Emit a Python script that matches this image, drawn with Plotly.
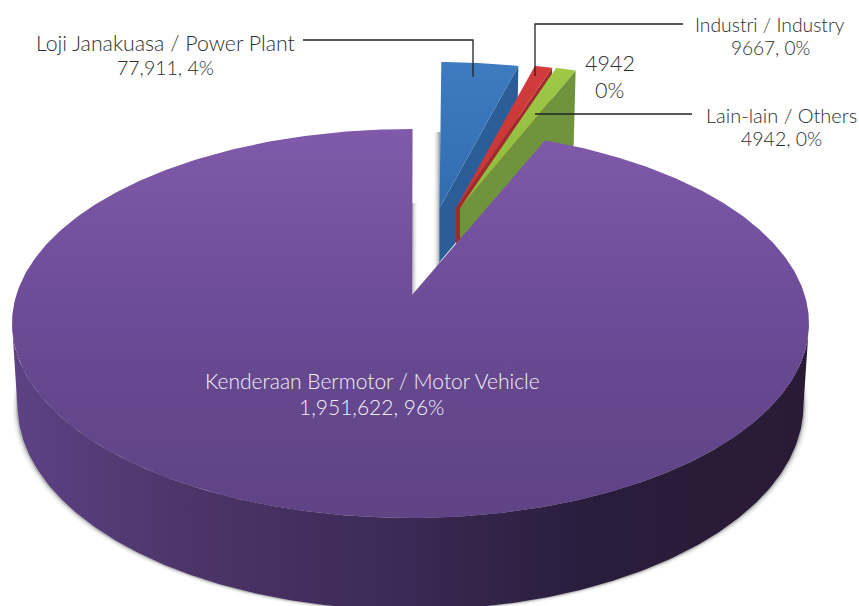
import numpy as np
import plotly.graph_objects as go

# Data
categories = ["Kenderaan Bermotor / Motor Vehicle", "Loji Janakuasa / Power Plant",
              "Industri / Industry", "Lain-lain / Others"]
value_labels = ["1,951,622, 96%", "77,911, 4%", "9667, 0%", "4942, 0%"]
# slice sizes as drawn in the picture (percent of the full circle)
drawn_share = [94.61, 3.61, 0.83, 0.95]
FONT = "Lato Light, Lato"
TEXT = "#2e2e2e"

# Geometry of the 3-D view
START = 0.3
TOP = dict(cx=410.5, cy=323.5, rx=398.5, ry=194.5)
BOT = dict(cx=410.5, cy=405.0, rx=393.0, ry=205.0)
MAIN_APEX = (412.0, 295.0)
EXPL = dict(rx=343.0, ry=146.0)
expl_apex = [(439.5, 208.0), (456.0, 208.0), (460.0, 208.0)]
expl_apex_depth = [54.0, 36.0, 30.0]
expl_rim_depth = [105.0, 72.0, 75.0]

face_grad = [
    [[0, "#3f7bc0"], [1, "#2f6aac"]],
    [[0, "#d23c3c"], [1, "#c43434"]],
    [[0, "#9fc946"], [1, "#8ab83f"]],
]
wall_col = ["#2b5e98", "#a32a2b", "#70933e"]

deg = [s * 3.6 for s in drawn_share]
ends = np.cumsum([START] + deg[1:])


def ell(e, a):
    t = np.radians(a)
    return e["cx"] + e["rx"] * np.sin(t), e["cy"] - e["ry"] * np.cos(t)


def poly(x, y, color=None, grad=None, start=None, stop=None, kind="vertical"):
    kw = dict(fillcolor=color) if color else dict(
        fillgradient=dict(type=kind, colorscale=grad, start=start, stop=stop))
    return go.Scatter(x=list(x), y=list(y), mode="lines", fill="toself",
                      line=dict(width=0), hoverinfo="skip", showlegend=False, **kw)


fig = go.Figure()

# soft drop shadows
for grow, col in [(5, "rgba(150,150,150,0.10)"), (3, "rgba(130,130,130,0.18)"), (1.5, "rgba(110,110,110,0.35)")]:
    a = np.linspace(60, 300, 240)
    e = dict(BOT, rx=BOT["rx"] + grow, cy=BOT["cy"] + grow * 0.6)
    fig.add_trace(poly(*ell(e, a), color=col))

# shadows in the white gap
ax0 = expl_apex[0][0]
fig.add_trace(poly([ax0 - 7, ax0 + 1, ax0 + 1, ax0 - 7], [132, 132, 290, 290],
                   grad=[[0, "rgba(255,255,255,0)"], [1, "rgba(150,150,150,0.85)"]],
                   start=ax0 - 7, stop=ax0, kind="horizontal"))
fig.add_trace(poly([MAIN_APEX[0], MAIN_APEX[0] + 6, MAIN_APEX[0] + 6, MAIN_APEX[0]], [203, 203, 295, 295],
                   grad=[[0, "rgba(150,150,150,0.85)"], [1, "rgba(255,255,255,0)"]],
                   start=MAIN_APEX[0], stop=MAIN_APEX[0] + 6, kind="horizontal"))

# exploded slices, back to front
for i in range(3):
    ax, ay = expl_apex[i]
    a0, a1 = ends[i], ends[i + 1]
    ex = dict(cx=ax, cy=ay, rx=EXPL["rx"], ry=EXPL["ry"])
    rx1, ry1 = ell(ex, a1)
    fig.add_trace(poly([ax, rx1, rx1 - 2, ax], [ay, ry1, ry1 + expl_rim_depth[i], ay + expl_apex_depth[i]],
                       color=wall_col[i]))
    arc = np.linspace(a0, a1, 20)
    xs, ys = ell(ex, arc)
    fig.add_trace(poly(np.r_[ax, xs], np.r_[ay, ys], grad=face_grad[i], start=60, stop=230))

# side wall of the main slice
arc = np.linspace(90, 270, 300)
tx, ty = ell(TOP, arc)
bx, by = ell(BOT, arc[::-1])
fig.add_trace(poly(np.r_[tx, bx], np.r_[ty, by],
                   grad=[[0, "#5d4285"], [0.23, "#4c3468"], [0.48, "#3b2a56"], [0.72, "#2a1d3c"], [1, "#291b36"]],
                   start=12, stop=809, kind="horizontal"))

# top face of the main slice
arc = np.linspace(ends[3], START + 360, 600)
xs, ys = ell(TOP, arc)
fig.add_trace(poly(np.r_[MAIN_APEX[0], xs], np.r_[MAIN_APEX[1], ys],
                   grad=[[0, "#7f5aaa"], [0.38, "#704e9a"], [0.62, "#664890"], [1, "#5f4385"]],
                   start=130, stop=518))

fig.add_shape(type="path", path="M303,40 L473,40 L473,77", line=dict(color="#222222", width=1.3))
fig.add_shape(type="path", path="M683,24 L535,24 L535,76", line=dict(color="#222222", width=1.3))
fig.add_shape(type="path", path="M692,114 L535,114", line=dict(color="#222222", width=1.3))


def label(x, y, text, size=20, color=TEXT):
    fig.add_annotation(x=x, y=y, text=text, showarrow=False, align="center",
                       xanchor="center", yanchor="middle",
                       font=dict(family=FONT, size=size, color=color))


label(165, 43, categories[1], size=21.3)
label(165, 67, value_labels[1], size=19.5)
label(769.5, 24, categories[2], size=19.3)
label(770, 47, value_labels[2], size=19)
label(781, 115, categories[3])
label(781, 138, value_labels[3], size=19.5)
label(610, 63, "4942", size=21.5)
label(609, 90, "0%", size=21.5)
label(372, 380, categories[0], size=21, color="#f4f0f8")
label(372, 406, value_labels[0], size=21, color="#f4f0f8")

fig.update_layout(
    width=859, height=606, margin=dict(l=0, r=0, t=0, b=0),
    paper_bgcolor="white", plot_bgcolor="white", showlegend=False,
    xaxis=dict(range=[0, 859], visible=False, fixedrange=True),
    yaxis=dict(range=[606, 0], visible=False, fixedrange=True),
)
fig.write_html("out.html", config={"displayModeBar": False},
               post_script="document.body.style.margin='0';document.body.style.overflow='hidden';")
